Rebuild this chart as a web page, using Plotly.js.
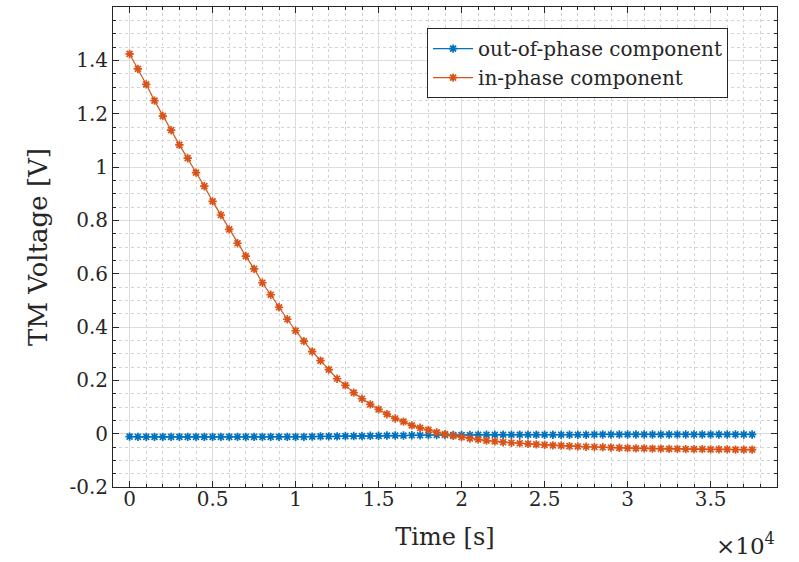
<!DOCTYPE html>
<html>
<head>
<meta charset="utf-8">
<script src="https://cdn.plot.ly/plotly-3.0.1.min.js"></script>
<style>html,body{margin:0;padding:0;background:#fff;}#chart{width:799px;height:562px;}</style>
</head>
<body>
<div id="chart"></div>
<script>
const time = [0,500,1000,1500,2000,2500,3000,3500,4000,4500,5000,5500,6000,6500,7000,7500,8000,8500,9000,9500,
10000,10500,11000,11500,12000,12500,13000,13500,14000,14500,15000,15500,16000,16500,17000,17500,18000,18500,19000,19500,
20000,20500,21000,21500,22000,22500,23000,23500,24000,24500,25000,25500,26000,26500,27000,27500,28000,28500,29000,29500,
30000,30500,31000,31500,32000,32500,33000,33500,34000,34500,35000,35500,36000,36500,37000,37500];

const inPhase = [1.424,1.368,1.310,1.249,1.191,1.138,1.083,1.033,0.979,0.928,
0.871,0.820,0.766,0.714,0.666,0.618,0.566,0.521,0.474,0.429,
0.386,0.347,0.308,0.274,0.240,0.206,0.181,0.154,0.131,0.110,
0.091,0.073,0.057,0.045,0.031,0.022,0.014,0.005,-0.002,-0.008,
-0.013,-0.018,-0.022,-0.026,-0.029,-0.032,-0.034,-0.036,-0.038,-0.040,
-0.042,-0.044,-0.045,-0.047,-0.048,-0.049,-0.050,-0.051,-0.052,-0.053,
-0.054,-0.055,-0.055,-0.056,-0.056,-0.057,-0.057,-0.058,-0.058,-0.058,
-0.059,-0.059,-0.059,-0.060,-0.060,-0.060];

const outPhase = [-0.011,-0.012,-0.012,-0.012,-0.012,-0.012,-0.012,-0.012,-0.012,-0.012,
-0.012,-0.012,-0.012,-0.012,-0.012,-0.012,-0.012,-0.012,-0.012,-0.012,
-0.012,-0.012,-0.011,-0.010,-0.010,-0.010,-0.009,-0.009,-0.009,-0.008,
-0.008,-0.007,-0.007,-0.007,-0.006,-0.006,-0.005,-0.005,-0.005,-0.005,
-0.005,-0.005,-0.004,-0.004,-0.004,-0.004,-0.004,-0.004,-0.004,-0.004,
-0.004,-0.004,-0.004,-0.004,-0.004,-0.004,-0.003,-0.003,-0.003,-0.003,
-0.003,-0.003,-0.003,-0.003,-0.003,-0.003,-0.003,-0.003,-0.003,-0.003,
-0.003,-0.003,-0.003,-0.003,-0.003,-0.003];

const xTickVals = [0,5000,10000,15000,20000,25000,30000,35000];
const xTickText = ["0","0.5","1","1.5","2","2.5","3","3.5"];
const yTickVals = [-0.2,0,0.2,0.4,0.6,0.8,1,1.2,1.4];
const yTickText = ["-0.2","0","0.2","0.4","0.6","0.8","1","1.2","1.4"];

const seriesNames = ["out-of-phase component","in-phase component"];
const colors = ["#0072BD","#D95319"];

const FONT = "DejaVu Serif";

const traces = [outPhase, inPhase].map((ys, i) => ({
  x: time, y: ys, type: 'scatter', mode: 'lines+markers', name: seriesNames[i],
  line: {color: colors[i], width: 1.2},
  marker: {symbol: 'asterisk-open', size: 7, color: colors[i], line: {color: colors[i], width: 1.7}}
}));

const axisCommon = {
  showline: true, linecolor: '#262626', linewidth: 1, mirror: 'ticks',
  ticks: 'inside', ticklen: 6, tickcolor: '#262626', tickwidth: 1,
  showgrid: true, gridcolor: '#dcdcdc', gridwidth: 1, zeroline: false,
  tickfont: {family: FONT, size: 20, color: '#262626'}
};

const layout = {
  width: 799, height: 562,
  margin: {l: 113, r: 22, t: 7, b: 75},
  paper_bgcolor: '#fff', plot_bgcolor: '#fff',
  font: {family: FONT, color: '#262626'},
  showlegend: true,
  legend: {x: 0.473, y: 0.956, xanchor: 'left', yanchor: 'top',
    bgcolor: '#fff', bordercolor: '#262626', borderwidth: 1,
    font: {family: FONT, size: 20, color: '#262626'}, tracegroupgap: 0, itemwidth: 40},
  xaxis: Object.assign({}, axisCommon, {
    range: [-1000, 39000], tickmode: 'array', tickvals: xTickVals, ticktext: xTickText,
    ticklabelstandoff: -6,
    title: {text: 'Time [s]', font: {family: FONT, size: 24, color: '#262626'}, standoff: 18},
    minor: {dtick: 1000, tick0: 0, showgrid: true, gridcolor: '#d4d4d4', griddash: 'dot', gridwidth: 1,
            ticks: 'inside', ticklen: 3, tickcolor: '#262626'}
  }),
  yaxis: Object.assign({}, axisCommon, {
    range: [-0.2, 1.6], tickmode: 'array', tickvals: yTickVals, ticktext: yTickText,
    title: {text: 'TM Voltage [V]', font: {family: FONT, size: 26, color: '#262626'}, standoff: 14},
    minor: {dtick: 0.05, tick0: 0, showgrid: true, gridcolor: '#d4d4d4', griddash: 'dot', gridwidth: 1,
            ticks: 'inside', ticklen: 3, tickcolor: '#262626'}
  }),
  annotations: [{
    xref: 'paper', yref: 'paper', x: 1.0, y: -0.118, xanchor: 'right', yanchor: 'middle',
    text: '×10<sup>4</sup>', showarrow: false, font: {family: FONT, size: 23, color: '#262626'}
  }]
};

Plotly.newPlot('chart', traces, layout, {displayModeBar: false, staticPlot: true});
</script>
</body>
</html>
